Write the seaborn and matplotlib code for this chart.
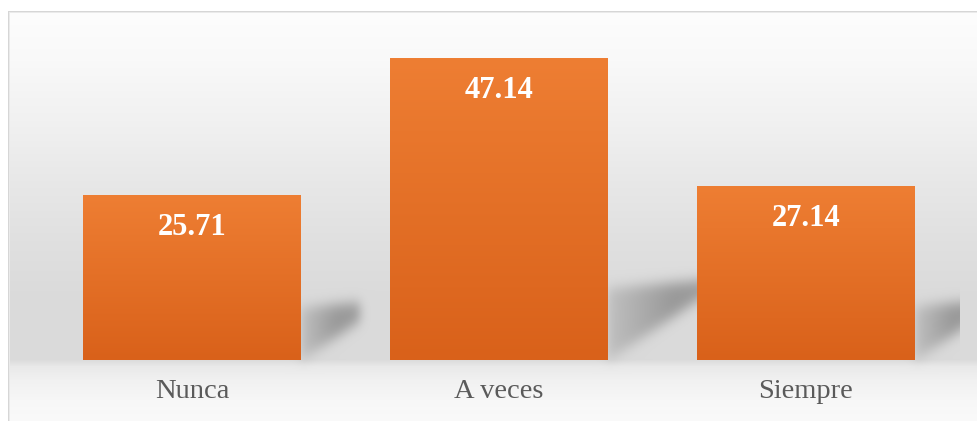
import numpy as np
import matplotlib
matplotlib.use("Agg")
import matplotlib.pyplot as plt
from matplotlib.colors import to_rgb
import seaborn as sns
import pandas as pd

# ---- data ----
categories = ["Nunca", "A veces", "Siempre"]
values = [25.71, 47.14, 27.14]
value_labels = ["25.71", "47.14", "27.14"]

W, H, DPI = 977, 421, 100
sns.set_theme(style="white")
plt.rcParams['font.family'] = ['Liberation Serif', 'DejaVu Serif']

fig = plt.figure(figsize=(W / DPI, H / DPI), dpi=DPI)
bg_ax = fig.add_axes([0, 0, 1, 1], zorder=0)
bg_ax.set_axis_off()
ax = fig.add_axes([38.5 / W, (H - 360) / H, 921 / W, 320.3 / H], zorder=1)
ax.patch.set_alpha(0)

df = pd.DataFrame({"cat": categories, "val": values})
sns.barplot(data=df, x="cat", y="val", ax=ax, width=0.707,
            color="#E8722A", saturation=1, zorder=2)
ax.set_ylim(0, 50)
ax.set_xlim(-0.5, 2.5)
ax.set_xlabel("")
ax.set_ylabel("")
ax.set_yticks([])
for s in ax.spines.values():
    s.set_visible(False)
ax.tick_params(axis="x", length=0, pad=14, labelsize=20.5, labelcolor="#5a5a5a")

# bar gradient fill
top_c = np.array(to_rgb("#EE7E33"))
bot_c = np.array(to_rgb("#D9611A"))
grad = np.linspace(0, 1, 256)[:, None]
for p in ax.patches:
    x0, w, h = p.get_x(), p.get_width(), p.get_height()
    img = (top_c[None, :] * (1 - grad) + bot_c[None, :] * grad)[:, None, :]
    ax.imshow(img, extent=[x0, x0 + w, 0, h], aspect="auto", origin="upper",
              zorder=2.5, interpolation="bilinear")
    p.set_facecolor("none")
    p.set_edgecolor("none")
ax.set_xlim(-0.5, 2.5)
ax.set_ylim(0, 50)

# value labels
for p, lab in zip(ax.patches, value_labels):
    ax.annotate(lab, (p.get_x() + p.get_width() / 2, p.get_height()),
                xytext=(0, -32), textcoords="offset pixels",
                ha="center", va="center", color="white",
                fontsize=22, fontweight="bold", zorder=5)

# ---- background: gradient, border, shadows (pixel space) ----
fig.canvas.draw()
renderer = fig.canvas.get_renderer()

rows = np.arange(H)
stops_r = [0, 12, 60, 120, 180, 240, 290, 359, 366, 380, 400, 421]
stops_v = [253, 253, 249, 241, 232, 224, 219, 218, 233, 241, 247, 250]
col = np.interp(rows, stops_r, stops_v) / 255.0
bg = np.repeat(col[:, None], W, axis=1)

# shadows
mask = np.zeros((H, W))
yy = rows.astype(float)
plot_right = ax.get_window_extent(renderer).x1
for p in ax.patches:
    bb = p.get_window_extent(renderer)
    R = bb.x1
    B = H - bb.y0
    h = bb.height
    L = 0.36 * h
    xs = np.arange(int(R), min(int(R + L) + 1, W))
    for x in xs:
        dx = x - R
        t = dx / L
        y_low = B - 0.67 * dx
        y_up = B - (30 + 0.14 * h) - 0.03 * h * t
        inten = min(1.0, 0.4 + 1.0 * t)
        sel = (yy >= y_up) & (yy <= y_low)
        mask[sel, x] = np.maximum(mask[sel, x], inten)


def blur1d(a, sigma, axis):
    r = int(3 * sigma)
    k = np.exp(-0.5 * (np.arange(-r, r + 1) / sigma) ** 2)
    k /= k.sum()
    return np.apply_along_axis(lambda m: np.convolve(m, k, mode="same"), axis, a)


mask = blur1d(mask, 6.5, 0)
mask = blur1d(mask, 5.0, 1)
mask[:, int(plot_right) + 1:] = 0
bg = bg * (1 - 0.30 * mask)

# frame
bg[:11, :] = 1.0
bg[:, :8] = 1.0
bg[11, 8:] = 0.84
bg[12, 9:] = 0.92
bg[11:, 8] = 0.84
bg[12:, 9] = 0.92

rgb = np.repeat(bg[:, :, None], 3, axis=2)
bg_ax.imshow(rgb, extent=[0, W, 0, H], origin="upper", aspect="auto",
             interpolation="nearest")
bg_ax.set_xlim(0, W)
bg_ax.set_ylim(0, H)

fig.savefig("out.png", dpi=DPI)
